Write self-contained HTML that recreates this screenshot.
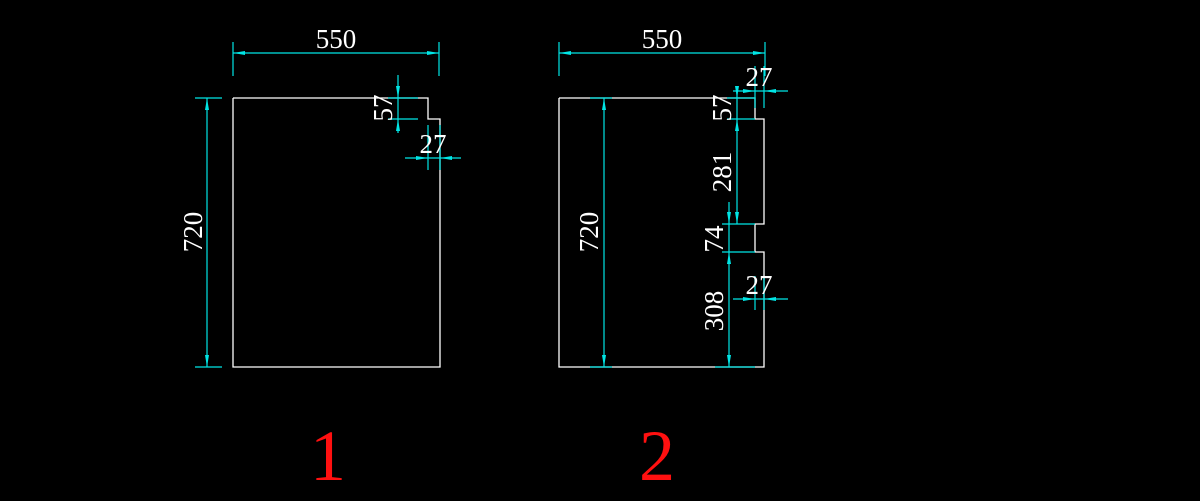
<!DOCTYPE html>
<html><head><style>html,body{margin:0;padding:0;background:#000;}svg{display:block}</style></head>
<body>
<svg width="1200" height="501" viewBox="0 0 1200 501" xmlns="http://www.w3.org/2000/svg">
<rect width="1200" height="501" fill="#000"/>
<g fill="none" stroke="#fff" stroke-width="1.3">
<polyline points="233,98 428,98 428,119 440,119 440,367 233,367 233,98"/>
<polyline points="559,98 755,98 755,119 764,119 764,224 755,224 755,252 764,252 764,367 559,367 559,98"/>
</g>
<g stroke="#00e5e5" stroke-width="1.2" fill="none">
<!-- shape1 -->
<line x1="233" y1="42" x2="233" y2="76"/><line x1="439" y1="42" x2="439" y2="76"/><line x1="233" y1="53" x2="439" y2="53"/>
<line x1="195" y1="98" x2="222" y2="98"/><line x1="195" y1="367" x2="222" y2="367"/><line x1="207" y1="98" x2="207" y2="367"/>
<line x1="398" y1="75" x2="398" y2="133"/><line x1="388" y1="98" x2="418" y2="98"/><line x1="388" y1="119" x2="418" y2="119"/>
<line x1="405" y1="158" x2="461" y2="158"/><line x1="428" y1="125" x2="428" y2="170"/><line x1="440" y1="125" x2="440" y2="170"/>
<!-- shape2 -->
<line x1="559" y1="42" x2="559" y2="76"/><line x1="765" y1="42" x2="765" y2="76"/><line x1="559" y1="53" x2="765" y2="53"/>
<line x1="590" y1="98" x2="612" y2="98"/><line x1="590" y1="367" x2="612" y2="367"/><line x1="604" y1="98" x2="604" y2="367"/>
<line x1="733" y1="91" x2="788" y2="91"/><line x1="755" y1="66" x2="755" y2="108"/><line x1="764" y1="66" x2="764" y2="108"/>
<line x1="727" y1="98" x2="755" y2="98"/><line x1="727" y1="119" x2="755" y2="119"/>
<line x1="737" y1="86" x2="737" y2="224"/>
<line x1="722" y1="224" x2="755" y2="224"/><line x1="722" y1="252" x2="755" y2="252"/>
<line x1="729" y1="202" x2="729" y2="367"/>
<line x1="715" y1="367" x2="755" y2="367"/>
<line x1="733" y1="299" x2="788" y2="299"/><line x1="755" y1="276" x2="755" y2="310"/><line x1="764" y1="276" x2="764" y2="310"/>
</g>
<g fill="#00e5e5">
<polygon points="233,53 245,51 245,55"/><polygon points="439,53 427,51 427,55"/>
<polygon points="207,98 205,110 209,110"/><polygon points="207,367 205,355 209,355"/>
<polygon points="398,98 396,86 400,86"/><polygon points="398,119 396,131 400,131"/>
<polygon points="428,158 416,156 416,160"/><polygon points="440,158 452,156 452,160"/>
<polygon points="559,53 571,51 571,55"/><polygon points="765,53 753,51 753,55"/>
<polygon points="604,98 602,110 606,110"/><polygon points="604,367 602,355 606,355"/>
<polygon points="755,91 743,89 743,93"/><polygon points="764,91 776,89 776,93"/>
<polygon points="737,98 735,86 739,86"/><polygon points="737,119 735,131 739,131"/>
<polygon points="737,224 735,212 739,212"/><polygon points="729,224 727,212 731,212"/>
<polygon points="729,252 727,264 731,264"/><polygon points="729,367 727,355 731,355"/>
<polygon points="755,299 743,297 743,301"/><polygon points="764,299 776,297 776,301"/>
</g>
<g fill="#fff" font-family="Liberation Serif, serif" font-size="27">
<text x="336" y="48" text-anchor="middle">550</text>
<text x="662" y="48" text-anchor="middle">550</text>
<text x="433" y="153" text-anchor="middle">27</text>
<text x="759" y="86" text-anchor="middle">27</text>
<text x="759" y="294" text-anchor="middle">27</text>
<text transform="translate(202,232) rotate(-90)" text-anchor="middle">720</text>
<text transform="translate(598,232) rotate(-90)" text-anchor="middle">720</text>
<text transform="translate(392,108) rotate(-90)" text-anchor="middle">57</text>
<text transform="translate(731,108) rotate(-90)" text-anchor="middle">57</text>
<text transform="translate(731,172) rotate(-90)" text-anchor="middle">281</text>
<text transform="translate(723,239) rotate(-90)" text-anchor="middle">74</text>
<text transform="translate(723,311) rotate(-90)" text-anchor="middle">308</text>
</g>
<g fill="#ff1010" font-family="Liberation Serif, serif" font-size="72">
<text x="328" y="480" text-anchor="middle">1</text>
<text x="657" y="480" text-anchor="middle">2</text>
</g>
</svg>
</body></html>
